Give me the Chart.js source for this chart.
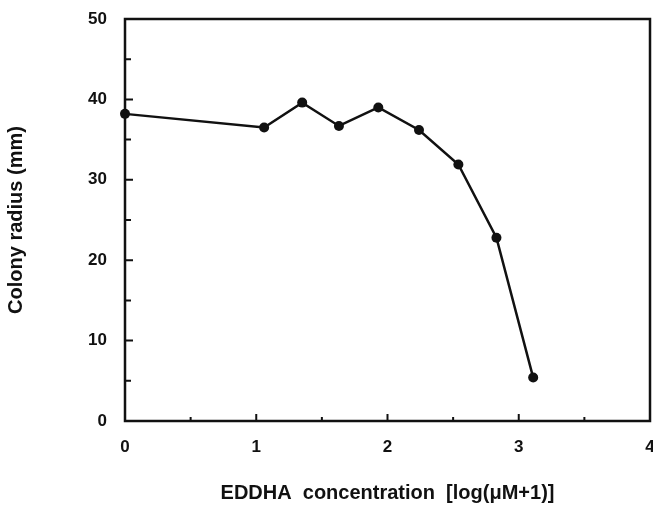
<!DOCTYPE html>
<html>
<head>
<meta charset="utf-8">
<script src="https://cdn.jsdelivr.net/npm/chart.js@4"></script>
<style>
  html, body { margin: 0; padding: 0; background: #fff; }
  #wrap { width: 653px; height: 506px; }
</style>
</head>
<body>
<div id="wrap"><canvas id="radiusChart" width="653" height="506"></canvas></div>
<script>
// EDDHA concentration, log(uM+1)
const concentration = [0, 1.06, 1.35, 1.63, 1.93, 2.24, 2.54, 2.83, 3.11];
// colony radius (mm)
const colonyRadius = [38.2, 36.5, 39.6, 36.7, 39.0, 36.2, 31.9, 22.8, 5.4];

const xMajorTicks = [1, 2, 3];
const xMinorTicks = [0.5, 1.5, 2.5, 3.5];
const yMajorTicks = [10, 20, 30, 40];
const yMinorTicks = [5, 15, 25, 35, 45];

const fam = "'Liberation Sans', Arial, sans-serif";
const tickFont = { family: fam, size: 17, weight: 'bold' };

// frame around the plot + inward tick marks
const framePlugin = {
    id: 'frame',
    afterDatasetsDraw(chart) {
        const { ctx, chartArea: a, scales: { x, y } } = chart;
        ctx.save();
        ctx.strokeStyle = '#111';
        ctx.lineWidth = 2.5;
        ctx.strokeRect(a.left, a.top, a.right - a.left, a.bottom - a.top);
        ctx.lineWidth = 2;
        ctx.beginPath();
        xMajorTicks.forEach(v => { const px = x.getPixelForValue(v); ctx.moveTo(px, a.bottom); ctx.lineTo(px, a.bottom - 7); });
        xMinorTicks.forEach(v => { const px = x.getPixelForValue(v); ctx.moveTo(px, a.bottom); ctx.lineTo(px, a.bottom - 4); });
        yMajorTicks.forEach(v => { const py = y.getPixelForValue(v); ctx.moveTo(a.left, py); ctx.lineTo(a.left + 8, py); });
        yMinorTicks.forEach(v => { const py = y.getPixelForValue(v); ctx.moveTo(a.left, py); ctx.lineTo(a.left + 6, py); });
        ctx.stroke();
        ctx.restore();
    }
};

const ctx = document.getElementById('radiusChart').getContext('2d');
new Chart(ctx, {
    type: 'line',
    data: {
        datasets: [{
            data: concentration.map((c, i) => ({ x: c, y: colonyRadius[i] })),
            borderColor: '#111',
            backgroundColor: '#111',
            borderWidth: 2.5,
            pointRadius: 5,
            pointBackgroundColor: '#111',
            pointBorderWidth: 0,
            tension: 0,
            clip: false
        }]
    },
    plugins: [framePlugin],
    options: {
        responsive: false,
        animation: false,
        layout: { autoPadding: false, padding: { top: 19, right: 3, left: 0, bottom: 0 } },
        plugins: {
            legend: { display: false },
            tooltip: { enabled: false }
        },
        scales: {
            x: {
                type: 'linear',
                min: 0,
                max: 4,
                grid: { display: false },
                border: { display: false },
                ticks: { stepSize: 1, color: '#111', font: tickFont, padding: 8 },
                title: {
                    display: true,
                    text: 'EDDHA  concentration  [log(μM+1)]',
                    color: '#111',
                    font: { family: fam, size: 20, weight: 'bold' },
                    padding: { top: 0, bottom: 1 }
                },
                afterFit(scale) {
                    scale.height = 85;
                    scale.paddingLeft = 0;
                    scale.paddingRight = 0;
                }
            },
            y: {
                min: 0,
                max: 50,
                grid: { display: false },
                border: { display: false },
                ticks: { stepSize: 10, color: '#111', font: tickFont, padding: 10 },
                title: {
                    display: true,
                    text: 'Colony radius (mm)',
                    color: '#111',
                    font: { family: fam, size: 20, weight: 'bold' },
                    padding: { top: 4, bottom: 0 }
                },
                afterFit(scale) {
                    scale.width = 125;
                    scale.paddingTop = 0;
                    scale.paddingBottom = 0;
                }
            }
        }
    }
});
</script>
</body>
</html>
